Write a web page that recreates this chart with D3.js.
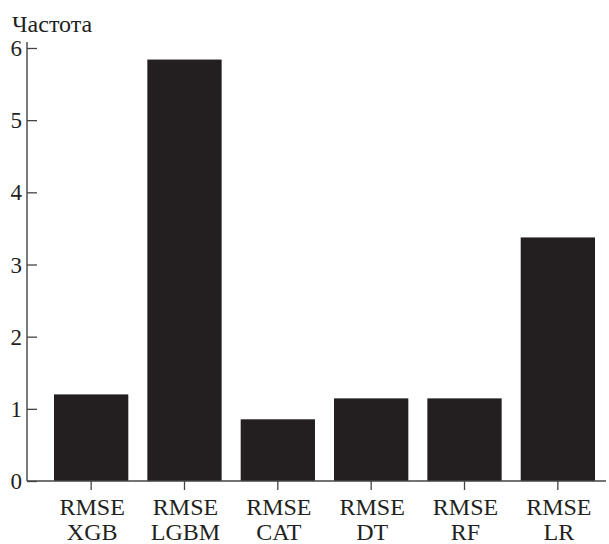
<!DOCTYPE html>
<html><head><meta charset="utf-8">
<script src="https://cdn.jsdelivr.net/npm/d3@7"></script>
<style>body{margin:0;background:#fff}svg{display:block}text{font-family:"Liberation Serif",serif;fill:#231f20}</style>
</head><body>
<script>
const categories = ["RMSE\nXGB","RMSE\nLGBM","RMSE\nCAT","RMSE\nDT","RMSE\nRF","RMSE\nLR"];
const values = [1.20, 5.84, 0.855, 1.145, 1.145, 3.375];
const yTicks = [0,1,2,3,4,5,6];
const yTitle = "Частота";

const W=609,H=544;
const svg=d3.select("body").append("svg").attr("width",W).attr("height",H);
const axisX=27, axisRight=606;
const y=d3.scaleLinear().domain([0,6]).range([481,48]);
const x=d3.scaleBand().domain(categories).range([54,595]).paddingInner(0.204).paddingOuter(0);

svg.selectAll("rect.bar").data(values).enter().append("rect")
  .attr("x",(d,i)=>x(categories[i])).attr("width",x.bandwidth())
  .attr("y",d=>y(d)).attr("height",d=>y(0)-y(d))
  .attr("fill","#231f20");

// y axis
const ya=svg.append("g").attr("transform",`translate(${axisX},0)`)
  .call(d3.axisRight(y).tickValues(yTicks).tickSize(10).tickFormat(""));
ya.select(".domain").remove();
ya.selectAll("line").attr("stroke","#444").attr("stroke-width",1.3);
svg.append("line").attr("x1",axisX).attr("x2",axisX).attr("y1",y(6)-6).attr("y2",y(0)).attr("stroke","#444").attr("stroke-width",1.4);
svg.selectAll("text.yt").data(yTicks).enter().append("text")
  .attr("x",22).attr("y",d=>y(d)+8).attr("text-anchor","end").attr("font-size",23).text(d=>d);

// x axis
svg.append("line").attr("x1",axisX).attr("x2",axisRight).attr("y1",y(0)).attr("y2",y(0)).attr("stroke","#444").attr("stroke-width",1.4);
const xa=svg.append("g").attr("transform",`translate(0,${y(0)})`)
  .call(d3.axisBottom(x).tickSize(9).tickFormat(""));
xa.select(".domain").remove();
xa.selectAll("line").attr("stroke","#444").attr("stroke-width",1.3);
categories.forEach(c=>{
  const lines=c.split("\n");
  const t=svg.append("text").attr("text-anchor","middle").attr("font-size",24);
  lines.forEach((l,i)=>t.append("tspan").attr("x",x(c)+x.bandwidth()/2+1).attr("y",515+i*25).text(l));
});

svg.append("text").attr("x",12).attr("y",32).attr("font-size",24).text(yTitle);
</script>
</body></html>
